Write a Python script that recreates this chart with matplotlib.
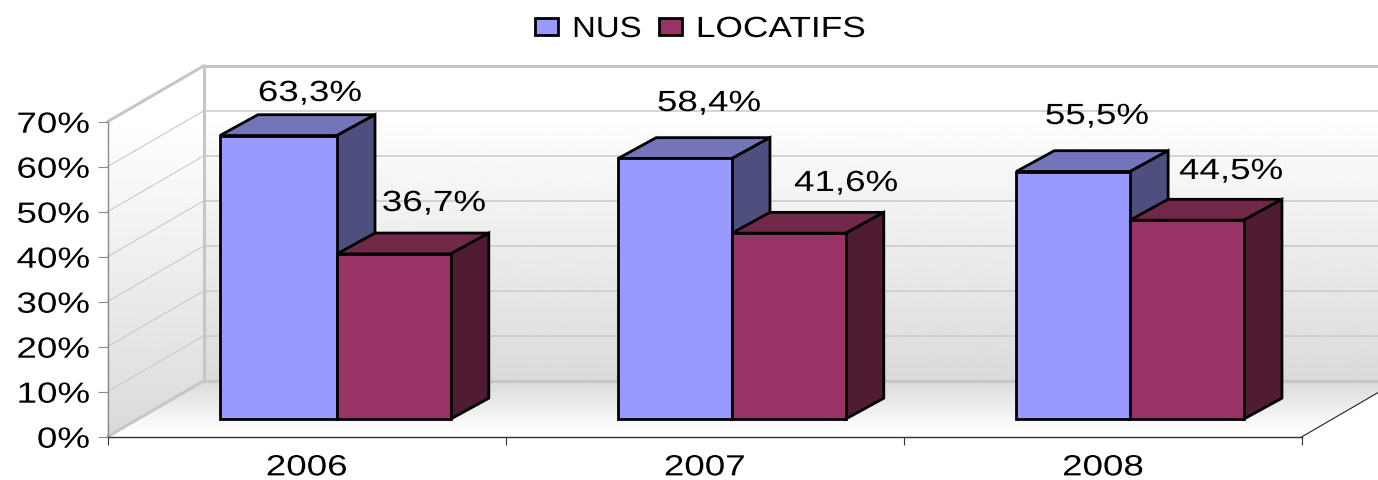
import numpy as np
import matplotlib
matplotlib.use("Agg")
import matplotlib.pyplot as plt
from matplotlib.patches import Polygon, Patch
from matplotlib.patheffects import AbstractPathEffect
from matplotlib.transforms import Affine2D, IdentityTransform

years = ["2006", "2007", "2008"]
nus = [63.0, 57.9, 55.0]
locatifs = [36.7, 41.3, 44.2]
series_names = ["NUS", "LOCATIFS"]
nus_labels = ["63,3%", "58,4%", "55,5%"]
loc_labels = ["36,7%", "41,6%", "44,5%"]
y_ticks = [0, 10, 20, 30, 40, 50, 60, 70]

W, H = 1378, 480
plt.rcParams["font.family"] = ["Liberation Sans", "DejaVu Sans"]
FS = 21
SX = 1.26


class Stretch(AbstractPathEffect):
    """Widen text horizontally about a pixel column (the reference is stretched)."""
    def __init__(self, sx, cx=None):
        super().__init__()
        self.sx, self.cx = sx, cx

    def draw_path(self, renderer, gc, tpath, affine, rgbFace=None):
        cx = self.cx if self.cx is not None else affine.get_matrix()[0, 2]
        a = affine + Affine2D().translate(-cx, 0).scale(self.sx, 1).translate(cx, 0)
        renderer.draw_path(gc, tpath, a, rgbFace)


fig = plt.figure(figsize=(W / 100, H / 100), dpi=100, facecolor="white")
L, R, B, T = 107.5, 1302.0, 436.7, 121.7
px_x = (R - L) / 3
px_y = (B - T) / 70
DX, DY = 96.5 / px_x, 56.0 / px_y

# full-figure axes sharing the chart's scales, only for the gradient walls
bg = fig.add_axes([0, 0, 1, 1], zorder=0)
bg.axis("off")
ax = fig.add_axes([L / W, 1 - B / H, (R - L) / W, (B - T) / H], zorder=1)
ax.set_facecolor("none")


def proj(x, y, d=0.0, dx=DX, dy=DY):
    return (x + d * dx, y + d * dy)


def poly(pts, target=None, **kw):
    p = Polygon(pts, closed=True, clip_on=False, **kw)
    (target or ax).add_patch(p)
    return p


grad = np.interp(np.linspace(0, 1, 256), [0, 0.14, 1], [1.0, 1.0, 0.855]).reshape(-1, 1)
x_far = 3.3

wall = poly([proj(0, 0, 1), proj(x_far, 0, 1), proj(x_far, 70, 1), proj(0, 70, 1)],
            bg, fc="none", ec="none")
im = bg.imshow(grad, cmap="gray", vmin=0, vmax=1, aspect="auto", zorder=0.5,
               extent=(proj(0, 0, 1)[0], proj(x_far, 0, 1)[0], DY, 70 + DY), origin="upper")
im.set_clip_path(wall)

side = poly([proj(0, 0), proj(0, 0, 1), proj(0, 70, 1), proj(0, 70)], bg, fc="none", ec="none")
im2 = bg.imshow(grad, cmap="gray", vmin=0, vmax=1, aspect="auto", zorder=0.5,
                extent=(0, DX, 0, 70 + DY), origin="upper")
im2.set_clip_path(side)

floor_grad = np.interp(np.linspace(0, 1, 128), [0, 0.85, 1], [0.855, 0.99, 1.0]).reshape(-1, 1)
im3 = bg.imshow(floor_grad, cmap="gray", vmin=0, vmax=1, aspect="auto", zorder=0.5,
                extent=(0, x_far + DX, 0, DY), origin="upper")
floor_r = poly([proj(0, 0), proj(3, 0), proj(3, 0, 1), proj(0, 0, 1)], bg, fc="none", ec="none")
im3.set_clip_path(floor_r)
bg.set_xlim(-L / px_x, (W - L) / px_x)
bg.set_ylim((B - H) / px_y, B / px_y)

GRID = "#c9c9c9"
for v in y_ticks[1:]:
    a, b = proj(0, v), proj(0, v, 1)
    ax.plot([a[0], b[0]], [a[1], b[1]], color=GRID, lw=0.8, clip_on=False, zorder=1)
    c = proj(x_far, v, 1)
    ax.plot([b[0], c[0]], [b[1], c[1]], color=GRID, lw=1.1, clip_on=False, zorder=1)

EDGE = "#c6c6c6"
for seg in ([proj(0, 0), proj(0, 0, 1)], [proj(0, 70), proj(0, 70, 1)],
            [proj(0, 0, 1), proj(0, 70, 1)], [proj(0, 70, 1), proj(x_far, 70, 1)],
            [proj(0, 0, 1), proj(x_far, 0, 1)]):
    ax.plot(*zip(*seg), color=EDGE, lw=2.2, clip_on=False, zorder=1.2, solid_capstyle="round")
ax.plot(*zip(proj(3, 0), proj(3, 0, 1)), color="#222222", lw=0.8, clip_on=False, zorder=1.2)

# bars (pixel rounding in the reference makes the first bar slightly wider)
NUS_W = [117.0 / px_x, 113.8 / px_x, 113.8 / px_x]
LOC_W = [113.8 / px_x, 113.8 / px_x, 113.8 / px_x]
FRONT = 0.316
X0 = (220.0 - L) / px_x - 0.5 - FRONT * DX
BDX, BDY = 38.0 / px_x, 20.8 / px_y
COLS = {"NUS": ("#9999ff", "#7474ba", "#4f4f7f"), "LOC": ("#993366", "#722849", "#4f1c34")}


def box(x, w, v, cols):
    x1 = x + w
    f = lambda xx, yy: proj(xx, yy, FRONT)
    off = lambda p: (p[0] + BDX, p[1] + BDY)
    kw = dict(ec="black", lw=2.0, joinstyle="miter", zorder=2)
    poly([f(x, v), f(x1, v), off(f(x1, v)), off(f(x, v))], fc=cols[1], **kw)
    poly([f(x1, 0), off(f(x1, 0)), off(f(x1, v)), f(x1, v)], fc=cols[2], **kw)
    poly([f(x, 0), f(x1, 0), f(x1, v), f(x, v)], fc=cols[0], **kw)


for i in range(3):
    x_start = i + 0.5 + X0
    box(x_start, NUS_W[i], nus[i], COLS["NUS"])
    box(x_start + NUS_W[i], LOC_W[i], locatifs[i], COLS["LOC"])

for s in ("top", "right"):
    ax.spines[s].set_visible(False)
ax.spines["left"].set_color("#8c8c8c")
ax.spines["bottom"].set_color("#333333")
for s in ("left", "bottom"):
    ax.spines[s].set_linewidth(1.0)
    ax.spines[s].set_zorder(1.5)

ax.set_xlim(0, 3)
ax.set_ylim(0, 70)
ax.set_yticks(y_ticks)
ax.set_yticklabels([f"{v}%" for v in y_ticks], fontsize=FS, color="black")
ax.tick_params(axis="y", length=7.2, width=0.8, color="#8c8c8c", pad=5.5)
for t in ax.get_yticklabels():
    t.set_path_effects([Stretch(SX, 90.0)])
ax.set_xticks([0, 1, 2, 3])
ax.set_xticklabels([])
ax.tick_params(axis="x", which="major", length=6, width=0.8, color="#333333")
ax.set_xticks([0.5, 1.5, 2.5], minor=True)
ax.set_xticklabels(years, minor=True, fontsize=FS, color="black")
ax.tick_params(axis="x", which="minor", length=0, pad=12)
for t, c in zip(ax.get_xticklabels(minor=True), [306.5, 705, 1103]):
    t.set_path_effects([Stretch(SX, c)])
    t.set_ha("center")

label_px = [(310, 93), (709, 103), (1097, 116), (434, 203), (846, 183), (1231, 171)]
for s, (cx, cy) in zip(nus_labels + loc_labels, label_px):
    t = fig.text(cx, H - cy, s, transform=IdentityTransform(), fontsize=FS,
                 ha="center", va="center", color="black", zorder=5)
    t.set_path_effects([Stretch(SX, cx)])

handles = [Patch(fc=COLS["NUS"][0], ec="black", lw=2.0, label=series_names[0]),
           Patch(fc=COLS["LOC"][0], ec="black", lw=2.0, label=series_names[1])]
leg = fig.legend(handles=handles, ncol=2, frameon=False, loc="center left",
                 bbox_to_anchor=(535 / W, 1 - 29 / H), borderaxespad=0, borderpad=0,
                 fontsize=21, handlelength=0.79, handleheight=0.55, handletextpad=0.48,
                 columnspacing=0.87)
for t, sx in zip(leg.get_texts(), [1.13, 1.21]):
    t.set_path_effects([Stretch(sx)])

fig.savefig("out.png", dpi=100, facecolor="white")
